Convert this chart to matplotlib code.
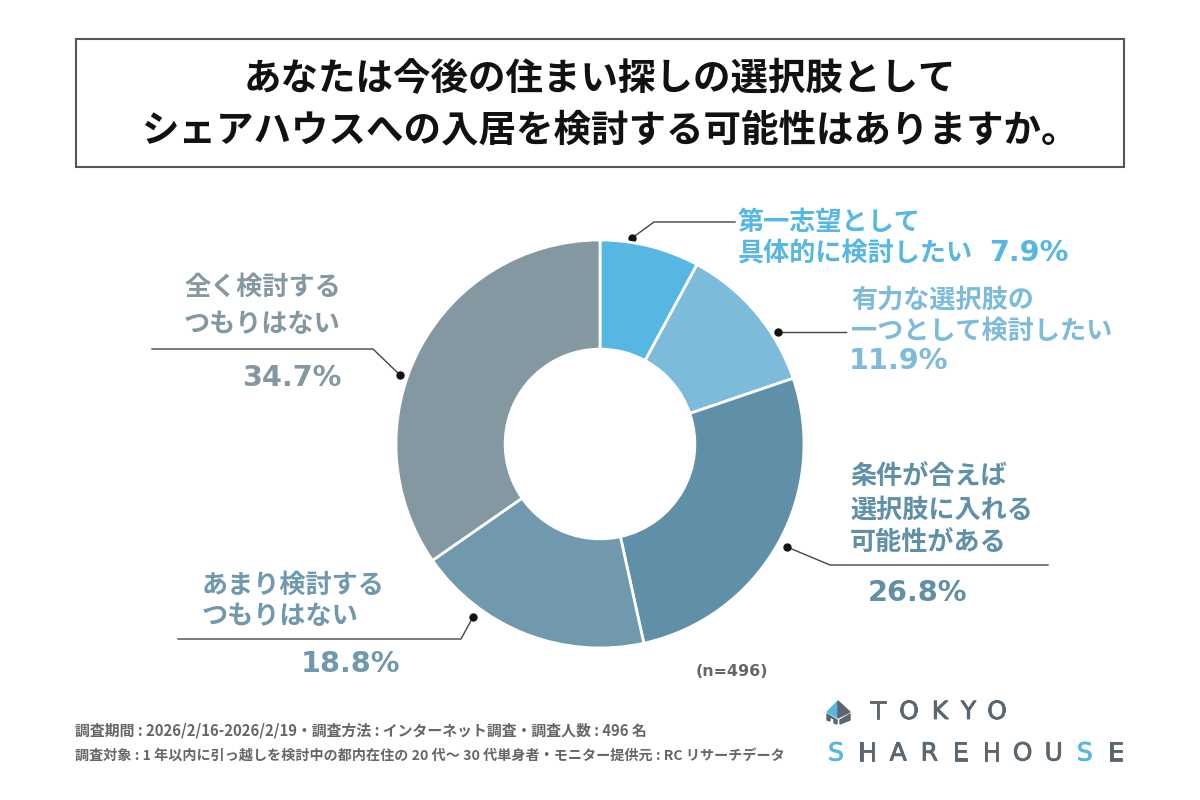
import matplotlib
matplotlib.use('Agg')
from matplotlib import pyplot as plt
from matplotlib import patheffects
from matplotlib.patches import Polygon, Rectangle

plt.rcParams['font.family'] = ['Noto Sans CJK JP', 'DejaVu Sans']

title_lines = ['あなたは今後の住まい探しの選択肢として',
               'シェアハウスへの入居を検討する可能性はありますか。']
categories = ['第一志望として\n具体的に検討したい', '有力な選択肢の\n一つとして検討したい',
              '条件が合えば\n選択肢に入れる\n可能性がある', 'あまり検討する\nつもりはない',
              '全く検討する\nつもりはない']
values = [7.9, 11.9, 26.8, 18.8, 34.7]
value_labels = ['7.9%', '11.9%', '26.8%', '18.8%', '34.7%']
colors = ['#56B7E3', '#7DBBDA', '#5F90A8', '#7099AE', '#8498A2']
sample_note = '(n=496)'
footnotes = ['調査期間 : 2026/2/16-2026/2/19・調査方法 : インターネット調査・調査人数 : 496 名',
             '調査対象 : 1 年以内に引っ越しを検討中の都内在住の 20 代～ 30 代単身者・モニター提供元 : RC リサーチデータ']

fig = plt.figure(figsize=(12, 8), dpi=100, facecolor='white')

# pixel overlay for box, labels and leader lines
bg = fig.add_axes([0, 0, 1, 1])
bg.set_xlim(0, 1200)
bg.set_ylim(800, 0)
bg.axis('off')

# donut centre (600, 444), radius 204 px
ax = fig.add_axes([396 / 1200, (800 - 648) / 800, 408 / 1200, 408 / 800])
ax.pie(values, colors=colors, startangle=90, counterclock=False, radius=1,
       wedgeprops=dict(width=0.535, edgecolor='white', linewidth=2))
ax.set_xlim(-1, 1)
ax.set_ylim(-1, 1)

bg.add_patch(Rectangle((76, 39), 1048, 128, fill=False, edgecolor='#555555', linewidth=1.5))
bg.text(600, 79, title_lines[0], fontsize=27, fontweight='bold', color='#111111', ha='center', va='center')
bg.text(611, 130, title_lines[1], fontsize=27, fontweight='bold', color='#111111', ha='center', va='center')

# each label line is placed on its own, the spacing differs per label
label_x = [738, 851, 850, 202, 184]
label_y = [[222, 254], [300, 331], [476, 510, 543], [585, 617], [287, 325]]
value_pos = [(1029, 253), (899, 361), (918, 593), (351, 664), (292, 378)]
for i in range(len(categories)):
    for line, y in zip(categories[i].split('\n'), label_y[i]):
        bg.text(label_x[i], y, line, fontsize=18.8, fontweight='bold', color=colors[i],
                ha='left', va='center')
    bg.text(value_pos[i][0], value_pos[i][1], value_labels[i], fontsize=20.7, fontweight='bold',
            color=colors[i], ha='center', va='center', family='DejaVu Sans')

leaders = [[(632, 238), (654, 222), (735, 222)],
           [(778, 332), (846, 332)],
           [(787, 547), (830, 565), (1048, 565)],
           [(473, 617), (461, 639), (178, 639)],
           [(400, 375), (373, 349), (152, 349)]]
for pts in leaders:
    bg.plot([p[0] for p in pts], [p[1] for p in pts], color='#444444', linewidth=1)
    bg.plot(pts[0][0], pts[0][1], 'o', color='#111111', markersize=5)

bg.text(732, 671, sample_note, fontsize=11.4, fontweight='bold', color='#666666', ha='center', va='center',
        family='DejaVu Sans')
bg.text(75, 730, footnotes[0], fontsize=10.7, fontweight='bold', color='#666666', ha='left', va='center')
bg.text(75, 756, footnotes[1], fontsize=10.13, fontweight='bold', color='#666666', ha='left', va='center')

# logo
bg.add_patch(Polygon([(838, 701), (827, 712), (838, 718)], color='#56B7E3'))
bg.add_patch(Polygon([(838, 701), (850, 712), (838, 718)], color='#5A6670'))
bg.add_patch(Polygon([(827, 714), (837, 720), (837, 724), (834, 723), (834, 719), (830, 717), (830, 721), (827, 720)], color='#5A6670'))
bg.add_patch(Polygon([(850, 714), (840, 720), (840, 724), (850, 720)], color='#5A6670'))

logo_top = 'TOKYO'
logo_bottom = 'SHAREHOUSE'
top_x = [878, 909, 940, 968.5, 997]
thick = [patheffects.withStroke(linewidth=0.6, foreground='#5A6670')]
thick_s = [patheffects.withStroke(linewidth=0.6, foreground='#56B7E3')]
for i, ch in enumerate(logo_top):
    bg.text(top_x[i], 712, ch, fontsize=18, color='#5A6670', ha='center', va='center',
            family='DejaVu Sans', path_effects=thick)
for i, ch in enumerate(logo_bottom):
    c = '#56B7E3' if ch == 'S' else '#5A6670'
    bg.text(836 + i * 31.1, 753.5, ch, fontsize=18, color=c, ha='center', va='center', family='DejaVu Sans',
            path_effects=thick_s if ch == 'S' else thick)

fig.savefig('out.png', dpi=100)
